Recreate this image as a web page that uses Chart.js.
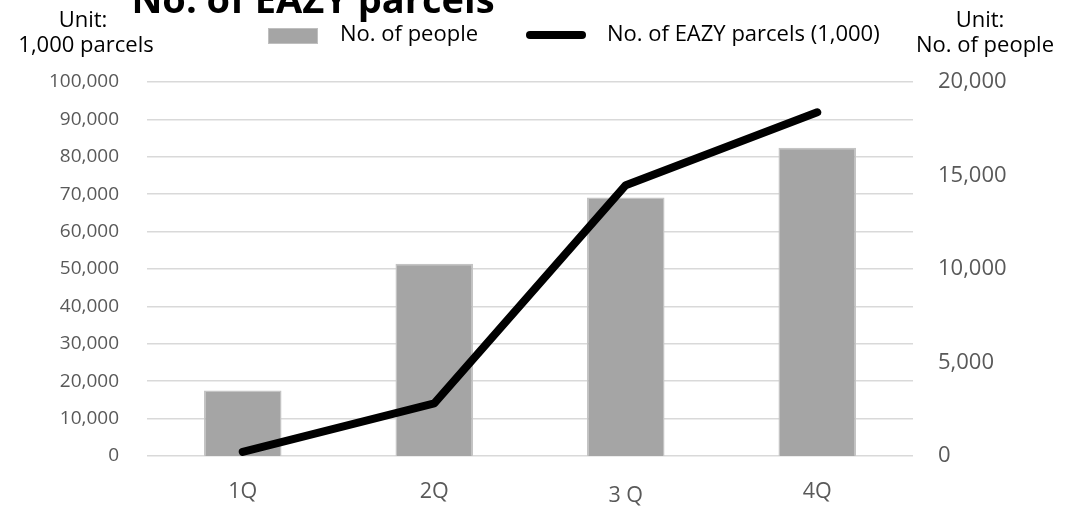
<!DOCTYPE html>
<html>
<head>
<meta charset="utf-8">
<script src="https://cdn.jsdelivr.net/npm/chart.js@4.4.1/dist/chart.umd.min.js"></script>
<style>
  html, body { margin: 0; padding: 0; background: #fff; }
  #wrap { position: relative; width: 1078px; height: 506px; }
</style>
</head>
<body>
<div id="wrap"><canvas id="parcelChart"></canvas></div>
<script>
// data
const quarters = ['1Q', '2Q', '3 Q', '4Q'];
const people = [3500, 10280, 13830, 16490];          // right axis, no. of people
const parcels = [1100, 14100, 72400, 91900];         // left axis, 1,000 parcels
const leftTicks = [0, 10000, 20000, 30000, 40000, 50000, 60000, 70000, 80000, 90000, 100000];
const rightTicks = [0, 5000, 10000, 15000, 20000];

const FONT = "'Open Sans', 'Noto Sans', sans-serif";
const fmt = v => v.toLocaleString('en-US');

// title, unit captions and legend sit outside the chart area
const overlay = {
    id: 'overlay',
    afterDraw(chart) {
        const ctx = chart.ctx;
        ctx.save();
        ctx.fillStyle = '#000';
        ctx.font = 'bold 38px ' + FONT;
        ctx.textAlign = 'center';
        ctx.textBaseline = 'alphabetic';
        ctx.fillText('No. of EAZY parcels', 313, 13);

        ctx.font = '22px ' + FONT;
        ctx.textBaseline = 'middle';
        ctx.fillText('Unit:', 83, 21);
        ctx.fillText('1,000 parcels', 86, 46);
        ctx.fillText('Unit:', 980, 21);
        ctx.fillText('No. of people', 985, 46);

        // legend
        ctx.fillStyle = '#a5a5a5';
        ctx.fillRect(268, 28, 50, 16);
        ctx.strokeStyle = '#bfbfbf';
        ctx.lineWidth = 1;
        ctx.strokeRect(268.5, 28.5, 49, 15);
        ctx.fillStyle = '#000';
        ctx.textAlign = 'left';
        ctx.fillText('No. of people', 340, 35);
        ctx.beginPath();
        ctx.lineCap = 'round';
        ctx.lineWidth = 8;
        ctx.strokeStyle = '#000';
        ctx.moveTo(530, 35);
        ctx.lineTo(582, 35);
        ctx.stroke();
        ctx.fillText('No. of EAZY parcels (1,000)', 607, 35);
        ctx.restore();
    }
};

const ctx = document.getElementById('parcelChart');
const chart = new Chart(ctx, {
    type: 'bar',
    data: {
        labels: quarters,
        datasets: [{
            type: 'line',
            label: 'No. of EAZY parcels (1,000)',
            data: parcels,
            yAxisID: 'y',
            borderColor: '#000',
            borderWidth: 8,
            borderCapStyle: 'round',
            borderJoinStyle: 'round',
            pointRadius: 0,
            tension: 0,
            order: 0
        }, {
            label: 'No. of people',
            data: people,
            yAxisID: 'y1',
            backgroundColor: '#a5a5a5',
            borderColor: '#c4c4c4',
            borderWidth: 1.5,
            barPercentage: 0.405,
            categoryPercentage: 1,
            order: 1
        }]
    },
    plugins: [overlay],
    options: {
        responsive: true,
        maintainAspectRatio: false,
        animation: false,
        layout: { padding: { top: 82, left: 0, right: 0, bottom: 0 } },
        plugins: {
            legend: { display: false },
            title: { display: false },
            tooltip: { enabled: false }
        },
        scales: {
            x: {
                grid: { display: false, drawTicks: false },
                border: { display: false },
                ticks: {
                    color: '#595959',
                    // the reference prints "3 Q" a little lower than the rest
                    font: c => ({ family: FONT, size: 21.5, lineHeight: c.index === 2 ? 1.6 : 1.2 }),
                    padding: 23,
                    maxRotation: 0
                },
                afterFit(s) { s.height = 50; }
            },
            y: {
                position: 'left',
                min: 0,
                max: 100000,
                afterBuildTicks(s) { s.ticks = leftTicks.map(v => ({ value: v })); },
                grid: { color: '#d9d9d9', lineWidth: 1.5, drawTicks: false },
                border: { display: false },
                ticks: {
                    color: '#595959', font: { family: FONT, size: 19 }, padding: 28,
                    callback: v => fmt(v)
                },
                afterFit(s) { s.width = 147; }
            },
            y1: {
                position: 'right',
                min: 0,
                max: 20000,
                afterBuildTicks(s) { s.ticks = rightTicks.map(v => ({ value: v })); },
                grid: { display: false, drawTicks: false },
                border: { display: false },
                ticks: {
                    color: '#595959', font: { family: FONT, size: 22 }, padding: 25,
                    callback: v => fmt(v)
                },
                afterFit(s) { s.width = 165; }
            }
        }
    }
});
</script>
</body>
</html>
